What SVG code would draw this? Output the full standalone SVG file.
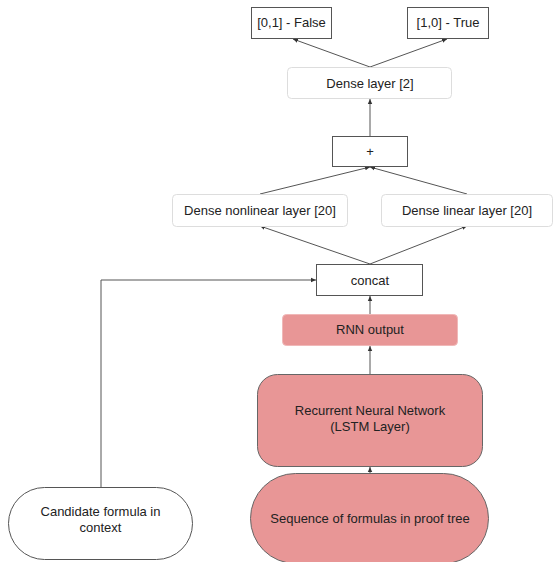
<svg xmlns="http://www.w3.org/2000/svg" width="553" height="562" viewBox="0 0 553 562">
<style>
text{font-family:"Liberation Sans",Arial,sans-serif;font-size:13px;fill:#222;text-anchor:middle}
.box{fill:#fff;stroke:#555;stroke-width:1}
.soft{fill:#fff;stroke:#ddd;stroke-width:1}
.red{fill:#e89696;stroke:#666;stroke-width:1}
.redsoft{fill:#e89696;stroke:#f0b8b8;stroke-width:1}
.c{fill:none;stroke:#555;stroke-width:1}
</style>
<defs>
<marker id="ah" markerWidth="6" markerHeight="6" refX="5" refY="3" orient="auto" markerUnits="userSpaceOnUse">
<path d="M0,0.8 L5,3 L0,5.2 Z" fill="#333"/>
</marker>
</defs>
<g id="connectors">
<path class="c" d="M370,67 L293,39" marker-end="url(#ah)"/>
<path class="c" d="M370,67 L447,39" marker-end="url(#ah)"/>
<path class="c" d="M370,136 L370,99" marker-end="url(#ah)"/>
<path class="c" d="M260,194 L370,167" marker-end="url(#ah)"/>
<path class="c" d="M467,194 L370,167" marker-end="url(#ah)"/>
<path class="c" d="M370,264 L260,226" marker-end="url(#ah)"/>
<path class="c" d="M370,264 L467,226" marker-end="url(#ah)"/>
<path class="c" d="M370,315 L370,296" marker-end="url(#ah)"/>
<path class="c" d="M370,374 L370,346" marker-end="url(#ah)"/>
<path class="c" d="M370,473 L370,467" marker-end="url(#ah)"/>
<path class="c" d="M101,487 L101,280 L316,280" marker-end="url(#ah)"/>
</g>
<g id="false"><rect class="box" x="251.5" y="7.5" width="80" height="31"/><text x="291.5" y="27">[0,1] - False</text></g>
<g id="true"><rect class="box" x="407.5" y="7.5" width="81" height="31"/><text x="448" y="27">[1,0] - True</text></g>
<g id="dense2"><rect class="soft" x="287.5" y="67.5" width="164" height="31" rx="4"/><text x="370" y="88">Dense layer [2]</text></g>
<g id="plus"><rect class="box" x="332.5" y="136.5" width="75" height="30"/><text x="370" y="156">+</text></g>
<g id="nonlinear"><rect class="soft" x="172.5" y="194.5" width="175" height="32" rx="4"/><text x="260" y="215">Dense nonlinear layer [20]</text></g>
<g id="linear"><rect class="soft" x="381.5" y="194.5" width="171" height="32" rx="4"/><text x="467" y="215">Dense linear layer [20]</text></g>
<g id="concat"><rect class="box" x="316.5" y="264.5" width="106" height="31"/><text x="370" y="285">concat</text></g>
<g id="rnnout"><rect class="redsoft" x="282.5" y="314.5" width="175" height="31" rx="4"/><text x="370" y="334">RNN output</text></g>
<g id="rnn"><rect class="red" x="257.5" y="374.5" width="225" height="92" rx="20"/><text x="370" y="415">Recurrent Neural Network</text><text x="370" y="431">(LSTM Layer)</text></g>
<g id="sequence"><rect class="red" x="250.5" y="473.5" width="238" height="90" rx="45"/><text x="370" y="523">Sequence of formulas in proof tree</text></g>
<g id="candidate"><rect class="box" x="8.5" y="487.5" width="184" height="72" rx="36"/><text x="100.5" y="516">Candidate formula in</text><text x="100.5" y="532">context</text></g>
</svg>
